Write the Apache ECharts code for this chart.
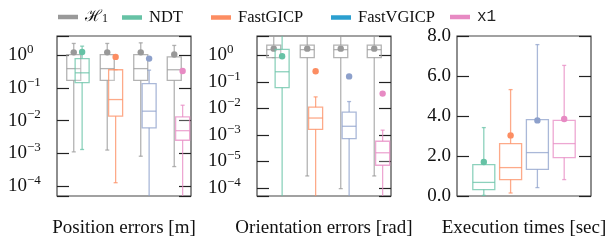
<!DOCTYPE html>
<html><head><meta charset="utf-8">
<script src="https://cdn.jsdelivr.net/npm/echarts@6/dist/echarts.min.js"></script>
<style>html,body{margin:0;padding:0;background:#fff}#c{width:606px;height:241px}</style>
</head><body><div id="c"></div>
<script>
// ---------- data ----------
const legendNames = ['H1', 'NDT', 'FastGICP', 'FastVGICP', 'x1'];
const methods = ['NDT', 'FastGICP', 'FastVGICP', 'x1'];
// each row: [min, q1, median, q3, max, mean]
const posRef = [
  [1.1e-3, 0.17, 0.39, 1.05, 2.3, 1.23],
  [1.25e-3, 0.17, 0.39, 1.05, 2.3, 1.23],
  [8.1e-4, 0.17, 0.39, 1.05, 2.4, 1.23],
  [3.9e-4, 0.17, 0.36, 0.89, 2.0, 1.05]
];
const posNDT = [1.3e-3, 0.146, 0.29, 0.79, 1.9, 1.26];
const posFastGICP = [1.25e-4, 0.0136, 0.044, 0.36, 0.36, 0.89];
const posFastVGICP = [1e-7, 6.0e-3, 0.0194, 0.136, 0.35, 0.79];
const posX1 = [1e-7, 2.5e-3, 4.9e-3, 0.0129, 0.0295, 0.33];

const oriRef = [
  [0.82, 0.82, 1.64, 2.45, 6, 1.79],
  [2.8e-5, 0.82, 1.64, 2.45, 6, 1.79],
  [9.3e-6, 0.82, 1.64, 2.45, 6, 1.79],
  [2.8e-5, 0.82, 1.64, 2.45, 6, 1.79]
];
const oriNDT = [1e-7, 0.06, 0.24, 1.68, 6, 0.92];
const oriFastGICP = [1e-7, 1.6e-3, 4.3e-3, 0.011, 0.027, 0.25];
const oriFastVGICP = [1e-7, 7.2e-4, 2.1e-3, 7.2e-3, 0.018, 0.16];
const oriX1 = [1e-7, 7.1e-5, 2.1e-4, 5.7e-4, 1.5e-3, 0.036];

const timeNDT = [0.03, 0.32, 0.68, 1.57, 3.42, 1.7];
const timeFastGICP = [0.15, 0.82, 1.42, 2.62, 5.32, 3.03];
const timeFastVGICP = [0.42, 1.33, 2.17, 3.82, 7.57, 3.78];
const timeX1 = [0.82, 1.92, 2.62, 3.78, 6.53, 3.85];

// tick label exponents as printed
const posExpLabels = ['0', '−1', '−2', '−3', '−4'];
const oriExpLabels = ['0', '−1', '−2', '−3', '−5', '−4'];
const timeTickLabels = ['0.0', '2.0', '4.0', '6.0', '8.0'];
const titles = ['Position errors [m]', 'Orientation errors [rad]', 'Execution times [sec]'];

// ---------- styles ----------
const colors = {H1: '#999999', NDT: '#66c2a5', FastGICP: '#fc8d62', FastVGICP: '#8da0cb', x1: '#e78ac3'};
const legendColors = ['#999999', '#66c2a5', '#fc8d62', '#2b9fcf', '#e78ac3'];
const legendLefts = [58, 122, 211, 331, 450];
const SERIF = "'Liberation Serif', 'Times New Roman', serif";

function boxSeries(name, rows, xIdx, off, boxW) {
  const col = colors[name];
  return {
    type: 'custom', name: name, xAxisIndex: xIdx, yAxisIndex: xIdx * 2, clip: true,
    itemStyle: {color: col},
    data: rows.map((r, i) => [i].concat(r)),
    renderItem: function (params, api) {
      const i = api.value(0);
      const x = api.coord([i + off, 1])[0];
      const Y = k => api.coord([i + off, api.value(k)])[1];
      const yMin = Y(1), yQ1 = Y(2), yMed = Y(3), yQ3 = Y(4), yMax = Y(5), yMean = Y(6);
      const hw = boxW / 2;
      const ls = {stroke: col, lineWidth: 1.3, opacity: 0.75, fill: null};
      const children = [
        {type: 'line', shape: {x1: x, y1: yQ1, x2: x, y2: yMin}, style: ls},
        {type: 'line', shape: {x1: x, y1: yQ3, x2: x, y2: yMax}, style: ls},
        {type: 'line', shape: {x1: x - 2, y1: yMin, x2: x + 2, y2: yMin}, style: ls},
        {type: 'line', shape: {x1: x - 2, y1: yMax, x2: x + 2, y2: yMax}, style: ls},
        {type: 'rect', shape: {x: x - hw, y: yQ3, width: boxW, height: yQ1 - yQ3}, style: {stroke: col, lineWidth: 1.3, opacity: 0.75, fill: 'rgba(255,255,255,0.3)'}},
        {type: 'line', shape: {x1: x - hw, y1: yMed, x2: x + hw, y2: yMed}, style: ls},
        {type: 'circle', shape: {cx: x, cy: yMean, r: 3.2}, style: {fill: col, stroke: null}}
      ];
      return {type: 'group', children: children};
    }
  };
}

const grids = [0, 1, 2].map(k => ({left: 57 + 200 * k, top: 36, width: 134, height: 160, show: true, borderColor: '#444', borderWidth: 1.2, backgroundColor: 'transparent', containLabel: false, outerBoundsMode: 'none'}));

const xAxes = [0, 1, 2].map(k => ({
  type: 'value', gridIndex: k, min: 0, max: k === 2 ? 5 : 4,
  axisLine: {show: false}, axisTick: {show: false}, axisLabel: {show: false}, splitLine: {show: false},
  name: titles[k], nameLocation: 'middle', nameGap: 23,
  nameTextStyle: {fontFamily: SERIF, fontSize: 19, color: '#111'}
}));

function logFmt(labels) {
  return function (v) {
    const e = Math.log10(v);
    const r = Math.round(e);
    if (Math.abs(e - r) > 1e-6) return '';
    const lab = labels[-r];
    if (lab === undefined) return '';
    return '{b|10}{s|' + lab + '}';
  };
}
const rich = {
  b: {fontFamily: SERIF, fontSize: 19, color: '#111', lineHeight: 24},
  s: {fontFamily: SERIF, fontSize: 13, color: '#111', lineHeight: 13, verticalAlign: 'top'}
};
const tickStyle = {show: true, inside: true, length: 12, lineStyle: {color: '#222', width: 1.2}};

const yAxes = [];
const yDefs = [
  {type: 'log', min: Math.pow(10, -4.31), max: Math.pow(10, 0.59), fmt: logFmt(posExpLabels)},
  {type: 'log', min: Math.pow(10, -5.31), max: Math.pow(10, 0.73), fmt: logFmt(oriExpLabels)},
  {type: 'value', min: 0, max: 8, interval: 2, fmt: v => timeTickLabels[Math.round(v / 2)] || ''}
];
yDefs.forEach((d, k) => {
  const base = {type: d.type, gridIndex: k, min: d.min, max: d.max, splitLine: {show: false}, axisLine: {show: false}};
  if (d.interval) base.interval = d.interval;
  if (d.type === 'log') base.logBase = 10;
  yAxes.push(Object.assign({}, base, {
    position: 'left', axisTick: tickStyle,
    axisLabel: k < 2
      ? {formatter: d.fmt, rich: rich, align: 'left', margin: 49}
      : {formatter: d.fmt, fontFamily: SERIF, fontSize: 19, color: '#111', margin: 6}
  }));
  yAxes.push(Object.assign({}, base, {position: 'right', axisTick: tickStyle, axisLabel: {show: false}}));
});

const posM = [posNDT, posFastGICP, posFastVGICP, posX1];
const oriM = [oriNDT, oriFastGICP, oriFastVGICP, oriX1];
const timeM = [timeNDT, timeFastGICP, timeFastVGICP, timeX1];
const series = [boxSeries('H1', posRef, 0, 0.5, 14), boxSeries('H1', oriRef, 1, 0.5, 14)];
methods.forEach((m, j) => {
  [[posM, 0, 0.75, 14], [oriM, 1, 0.75, 14], [timeM, 2, 1, 22]].forEach(([arr, g, off, w]) => {
    const s = boxSeries(m, [arr[j]], g, off, w);
    s.data = [[j].concat(arr[j])];
    series.push(s);
  });
});

const legendRich = {
  h: {fontFamily: 'DejaVu Serif', fontSize: 16, color: '#111'},
  sub: {fontFamily: SERIF, fontSize: 12, color: '#111', verticalAlign: 'bottom', lineHeight: 12},
  m: {fontFamily: "'Liberation Mono', monospace", fontSize: 16, color: '#222'}
};
const legends = legendNames.map((n, k) => {
  const ts = {fontFamily: SERIF, fontSize: 16.5, color: '#111', padding: [0, 0, 0, 2]};
  if (n === 'H1' || n === 'x1') ts.rich = legendRich;
  return {
    data: [{name: n, itemStyle: {color: legendColors[k]}, textStyle: {fontFamily: SERIF, fontSize: 16.5}}],
    left: legendLefts[k], top: 9, padding: 0, icon: 'rect', itemWidth: 20, itemHeight: 4.5,
    selectedMode: false,
    formatter: n === 'H1' ? '{h|ℋ}{sub|1}' : (n === 'x1' ? '{m|x1}' : '{name}'),
    textStyle: ts
  };
});

const chart = echarts.init(document.getElementById('c'), null, {renderer: 'canvas'});
chart.setOption({
  animation: false, backgroundColor: '#fff',
  grid: grids, xAxis: xAxes, yAxis: yAxes, legend: legends, series: series
});
</script></body></html>
